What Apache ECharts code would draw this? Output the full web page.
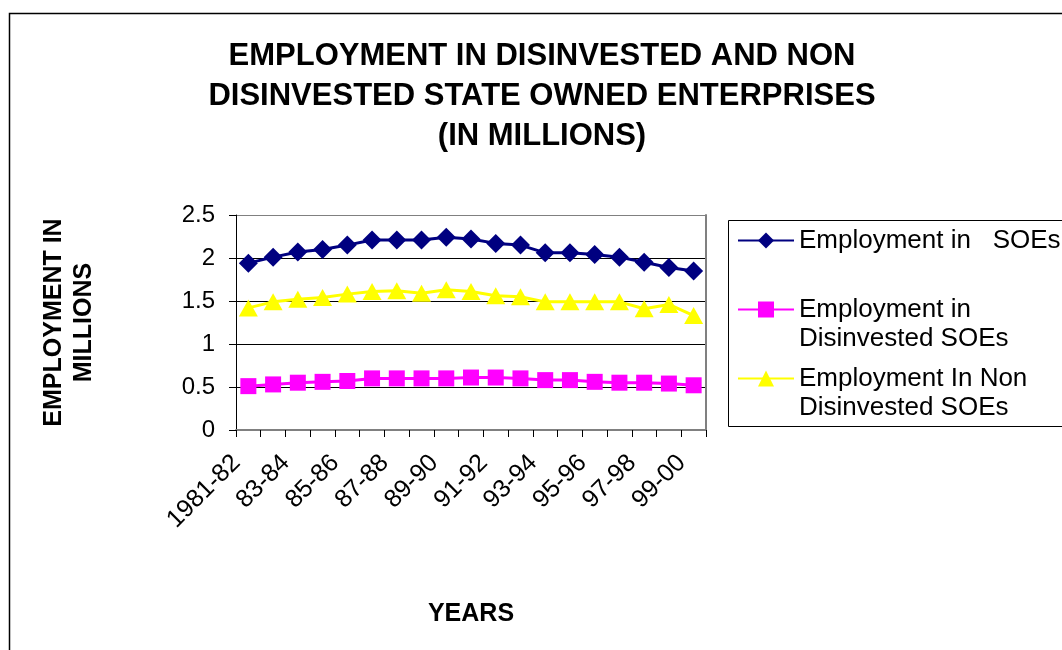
<!DOCTYPE html>
<html>
<head>
<meta charset="utf-8">
<script src="https://cdn.jsdelivr.net/npm/echarts@6/dist/echarts.min.js"></script>
<style>
  html, body { margin: 0; padding: 0; background: #fff; }
  #chart { width: 1062px; height: 650px; }
</style>
</head>
<body>
<div id="chart"></div>
<script>
// ---- data ----
const categories = ['1981-82','82-83','83-84','84-85','85-86','86-87','87-88','88-89','89-90','90-91',
                    '91-92','92-93','93-94','94-95','95-96','96-97','97-98','98-99','99-00'];
const employmentSOEs = [1.94,2.01,2.07,2.10,2.15,2.21,2.21,2.21,2.24,2.22,2.17,2.15,2.06,2.06,2.04,2.01,1.95,1.89,1.85];
const employmentDisinvested = [0.51,0.53,0.55,0.56,0.57,0.60,0.60,0.60,0.60,0.61,0.61,0.60,0.58,0.58,0.56,0.55,0.55,0.54,0.52];
const employmentNonDisinvested = [1.42,1.49,1.52,1.54,1.58,1.61,1.62,1.59,1.63,1.61,1.56,1.55,1.49,1.49,1.49,1.49,1.41,1.46,1.33];
const seriesNames = ['Employment in   SOEs', 'Employment in\nDisinvested SOEs', 'Employment In Non\nDisinvested SOEs'];
const yTicks = [0, 0.5, 1, 1.5, 2, 2.5];
const titleText = 'EMPLOYMENT IN DISINVESTED AND NON\nDISINVESTED STATE OWNED ENTERPRISES\n(IN MILLIONS)';
const yAxisName = 'EMPLOYMENT IN\nMILLIONS';
const xAxisName = 'YEARS';

const FONT = "'Liberation Sans', Arial, sans-serif";
const chart = echarts.init(document.getElementById('chart'), null, { renderer: 'canvas' });

const legendText = { fontFamily: FONT, fontSize: 26, color: '#000', lineHeight: 29 };
function multiLineLegend(name) {
  // a blank first line keeps the first text line level with the icon
  return '{s| }\n' + name.split('\n').map(function (l) { return '{a|' + l + '}'; }).join('\n');
}
const richLegend = Object.assign({}, legendText, {
  rich: {
    s: { lineHeight: 29, fontSize: 26 },
    a: { lineHeight: 29, fontSize: 26, fontFamily: FONT, color: '#000' }
  }
});
const legendCommon = {
  orient: 'vertical',
  padding: 0,
  itemWidth: 56,
  itemHeight: 20,
  itemGap: 0,
  textStyle: legendText
};

chart.setOption({
  animation: false,
  backgroundColor: '#fff',
  title: {
    text: titleText,
    left: 537,
    top: 31,
    textAlign: 'center',
    textStyle: { fontFamily: FONT, fontSize: 31, fontWeight: 'bold', color: '#000', lineHeight: 40 }
  },
  graphic: [
    { type: 'rect', silent: true, z: -10, shape: { x: 9.5, y: 13.5, width: 1100, height: 700 },
      style: { fill: 'none', stroke: '#000', lineWidth: 1.5 } },
    { type: 'rect', silent: true, z: -10, shape: { x: 728.5, y: 220.5, width: 400, height: 206 },
      style: { fill: 'none', stroke: '#000', lineWidth: 1 } }
  ],
  legend: [
    Object.assign({}, legendCommon, { left: 737, top: 226, data: [seriesNames[0]] }),
    Object.assign({}, legendCommon, { left: 737, top: 266, data: [seriesNames[1]],
      formatter: multiLineLegend, textStyle: richLegend }),
    Object.assign({}, legendCommon, { left: 737, top: 335, data: [seriesNames[2]],
      formatter: multiLineLegend, textStyle: richLegend })
  ],
  grid: { left: 236, right: 356, top: 215, bottom: 220, containLabel: false },
  xAxis: [{
    type: 'category',
    data: categories,
    boundaryGap: true,
    name: xAxisName,
    nameLocation: 'middle',
    nameGap: 172,
    nameTextStyle: { fontFamily: FONT, fontSize: 25, fontWeight: 'bold', color: '#000' },
    axisLine: { show: true, lineStyle: { color: '#000', width: 1 } },
    axisTick: { show: true, interval: 0, alignWithLabel: false, length: 7, lineStyle: { color: '#000' } },
    axisLabel: { interval: 1, rotate: 45, margin: 17, padding: [0, 17, 0, 0], fontFamily: FONT, fontSize: 25, color: '#000' },
    splitLine: { show: false }
  }, {
    type: 'category',
    data: categories,
    position: 'top',
    axisLine: { show: true, lineStyle: { color: '#808080', width: 2 } },
    axisTick: { show: false },
    axisLabel: { show: false },
    splitLine: { show: false }
  }],
  yAxis: [{
    type: 'value',
    min: 0,
    max: 2.5,
    interval: 0.5,
    name: yAxisName,
    nameLocation: 'middle',
    nameRotate: 90,
    nameGap: 137,
    nameTextStyle: { fontFamily: FONT, fontSize: 25, fontWeight: 'bold', color: '#000', lineHeight: 30 },
    axisLine: { show: true, lineStyle: { color: '#000', width: 1 } },
    axisTick: { show: true, inside: false, length: 7, lineStyle: { color: '#000' } },
    axisLabel: {
      margin: 21, fontFamily: FONT, fontSize: 24, color: '#000',
      formatter: function (v) { return yTicks.indexOf(v) >= 0 ? String(v) : ''; }
    },
    splitLine: { show: true, lineStyle: { color: ['#000', '#000', '#000', '#000', '#000', '#808080'], width: 1 } }
  }, {
    type: 'value',
    min: 0,
    max: 2.5,
    position: 'right',
    axisLine: { show: true, lineStyle: { color: '#808080', width: 2 } },
    axisTick: { show: false },
    axisLabel: { show: false },
    splitLine: { show: false }
  }],
  series: [
    {
      name: seriesNames[0], type: 'line', data: employmentSOEs,
      symbol: 'diamond', symbolSize: [19, 19], showAllSymbol: true,
      lineStyle: { color: '#000080', width: 3 },
      itemStyle: { color: '#000080' }
    },
    {
      name: seriesNames[1], type: 'line', data: employmentDisinvested,
      symbol: 'rect', symbolSize: [16, 16], showAllSymbol: true,
      lineStyle: { color: '#FF00FF', width: 3 },
      itemStyle: { color: '#FF00FF' }
    },
    {
      name: seriesNames[2], type: 'line', data: employmentNonDisinvested,
      symbol: 'triangle', symbolSize: [19, 17], showAllSymbol: true,
      lineStyle: { color: '#FFFF00', width: 3 },
      itemStyle: { color: '#FFFF00' }
    }
  ]
});
</script>
</body>
</html>
